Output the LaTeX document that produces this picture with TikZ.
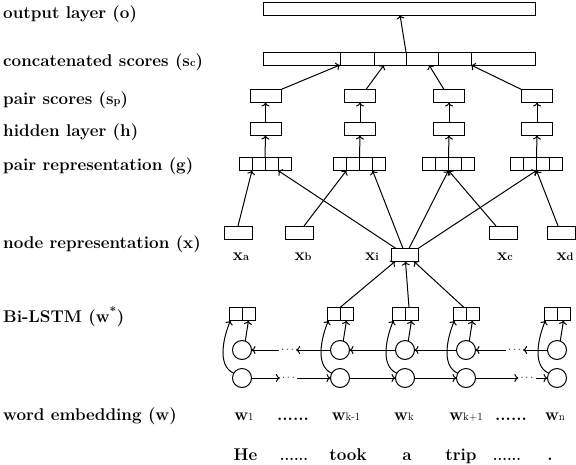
\documentclass[tikz,border=0pt]{standalone}
\usetikzlibrary{arrows.meta,calc}
\newcommand\sbs[1]{{\fontsize{11}{12}\selectfont #1}}
\newcommand\sbm[1]{{\fontsize{11}{12}\selectfont\mdseries #1}}
\begin{document}
\begin{tikzpicture}[x=1pt,y=-1pt,
  lw/.style={line width=1pt},
  box/.style={draw,lw,minimum width=31pt,minimum height=13pt,inner sep=0pt,outer sep=0pt},
  cell/.style={draw,lw,minimum width=13pt,minimum height=13pt,inner sep=0pt,outer sep=0pt},
  wbox/.style={draw,lw,minimum width=#1,minimum height=13pt,inner sep=0pt,outer sep=0pt},
  neuron/.style={draw,lw,circle,minimum size=19pt,inner sep=0pt,outer sep=0pt},
  arr/.style={lw,-{To[length=4pt,width=8pt]}},
  lay/.style={anchor=base west,inner sep=0pt,font=\fontsize{17}{20}\selectfont\bfseries},
  lbl/.style={anchor=base,inner sep=0pt,font=\fontsize{17}{20}\selectfont\bfseries},
  dotsn/.style={inner sep=2pt,font=\fontsize{11}{12}\selectfont},
]
\useasboundingbox (0,0) rectangle (576,464);

% layer labels
\node[lay] (t1) at (3,18) {output layer (o)};
\node[lay] (t2) at (3,66) {concatenated scores (s\sbs{c})};
\node[lay] (t3) at (3,104) {pair scores (s\sbs{p})};
\node[lay] (t4) at (3,136) {hidden layer (h)};
\node[lay] (t5) at (3,170) {pair representation (g)};
\node[lay] (t6) at (3,248) {node representation (x)};
\node[lay] (t7) at (3,322) {Bi-LSTM (w\textsuperscript{*})};
\node[lay] (t8) at (3,420) {word embedding (w)};

% output and concatenated scores
\node[wbox=272pt] (out) at (399,8.5) {};
\node[wbox=77pt] (sc1) at (301.5,58.5) {};
\node[wbox=34pt] (sc2) at (357,58.5) {};
\node[wbox=32pt] (sc3) at (390,58.5) {};
\node[wbox=32pt] (sc4) at (422,58.5) {};
\node[wbox=33pt] (sc5) at (454.5,58.5) {};
\node[wbox=64pt] (sc6) at (503,58.5) {};
\draw[arr] (sc3.north east) -- ([xshift=1pt]out.south);

% columns: pair scores, hidden, pair representation
\foreach \i/\c in {1/265.5,2/360,3/449,4/537}{
  \node[box] (sp\i) at (\c,96) {};
  \node[box] (h\i) at (\c,129) {};
  \foreach \k/\dx in {1/-19.5,2/-6.5,3/6.5,4/19.5}{
    \node[cell] (g\i\k) at (\c-0.5+\dx,164) {};
  }
  \draw[arr] (g\i2.north east) -- (h\i.south);
  \draw[arr] (h\i.north) -- (sp\i.south);
}
\draw[arr] (sp1.north east) -- (sc1.south east);
\draw[arr] ([xshift=6pt]sp2.north) -- ([xshift=10pt]sc3.south west);
\draw[arr] ([xshift=-5pt]sp3.north) -- ([xshift=23pt]sc4.south west);
\draw[arr] (sp4.north west) -- (sc6.south west);

% node representations
\node[wbox=28pt] (xa) at (238,232.5) {};
\node[wbox=28pt] (xb) at (299,232.5) {};
\node[wbox=28pt] (xc) at (503,232.5) {};
\node[wbox=28pt] (xd) at (561,232.5) {};
\node[wbox=27pt] (xi) at (404.5,255) {};
\node[lbl] (lxa) at (241,260) {x\sbs{a}};
\node[lbl] (lxb) at (303,260) {x\sbs{b}};
\node[lbl] (lxi) at (372,260) {x\sbs{i}};
\node[lbl] (lxc) at (505,260) {x\sbs{c}};
\node[lbl] (lxd) at (565,260) {x\sbs{d}};

\draw[arr] (xa.north) -- (g11.south east);
\draw[arr] ([xshift=5pt]xb.north) -- (g21.south east);
\draw[arr] ([xshift=-7pt]xc.north) -- (g32.south east);
\draw[arr] ([xshift=-3pt]xd.north) -- (g42.south east);
\draw[arr] ([xshift=-8.5pt]xi.north) -- (g13.south east);
\draw[arr] ([xshift=-1.5pt]xi.north) -- (g23.south east);
\draw[arr] ([xshift=4.5pt]xi.north) -- (g32.south east);
\draw[arr] (xi.north east) -- (g42.south east);

% Bi-LSTM
\foreach \j/\b in {1/242,2/340,3/405,4/466,5/557}{
  \node[cell] (bl\j) at (\b-6.5,314) {};
  \node[cell] (br\j) at (\b+6.5,314) {};
  \node[neuron] (u\j) at (\b,350) {};
  \node[neuron] (d\j) at (\b,378) {};
  \draw[arr] (u\j.70) -- (br\j.south);
  \draw[arr] (d\j.150) .. controls +(-18,-8) and +(-6,14) .. ([xshift=1.5pt]bl\j.south west);
}
\node[dotsn] (du1) at (287.5,350) {$\cdots$};
\node[dotsn] (dl1) at (288.5,378) {$\cdots$};
\node[dotsn] (du2) at (514.5,350) {$\cdots$};
\node[dotsn] (dl2) at (527,378) {$\cdots$};
% forward (lower)
\draw[arr] (d1.east) -- (dl1.west);
\draw[arr] (dl1.east) -- (d2.west);
\draw[arr] (d2.east) -- (d3.west);
\draw[arr] (d3.east) -- (d4.west);
\draw[arr] (d4.east) -- (dl2.west);
\draw[arr] (dl2.east) -- (d5.west);
% backward (upper)
\draw[arr] (u2.west) -- (du1.east);
\draw[arr] (du1.west) -- (u1.east);
\draw[arr] (u3.west) -- (u2.east);
\draw[arr] (u4.west) -- (u3.east);
\draw[arr] (u5.west) -- (du2.east);
\draw[arr] (du2.west) -- (u4.east);

% Bi-LSTM to x_i
\draw[arr] (bl2.north east) -- ([xshift=-9.5pt]xi.south);
\draw[arr] ([xshift=4pt]bl3.north east) -- ([xshift=1pt]xi.south);
\draw[arr] ([xshift=-2pt]bl4.north east) -- ([xshift=9.5pt]xi.south);

% word embeddings
\node[lbl] (w1) at (244,420) {w\sbm{1}};
\node[lbl] (wd1) at (293,420) {......};
\node[lbl] (wk1) at (346,420) {w\sbm{k-1}};
\node[lbl] (wk) at (404,420) {w\sbm{k}};
\node[lbl] (wk2) at (466,420) {w\sbm{k+1}};
\node[lbl] (wd2) at (511,420) {......};
\node[lbl] (wn) at (555,420) {w\sbm{n}};

% sentence
\node[lbl] (s1) at (245.5,460) {He};
\node[lbl,font=\fontsize{15}{18}\selectfont\bfseries] (s2) at (294,460) {......};
\node[lbl] (s3) at (348,460) {took};
\node[lbl] (s4) at (407,460) {a};
\node[lbl] (s5) at (461,460) {trip};
\node[lbl,font=\fontsize{15}{18}\selectfont\bfseries] (s6) at (507,460) {......};
\node[lbl] (s7) at (550,460) {.};
\end{tikzpicture}
\end{document}
